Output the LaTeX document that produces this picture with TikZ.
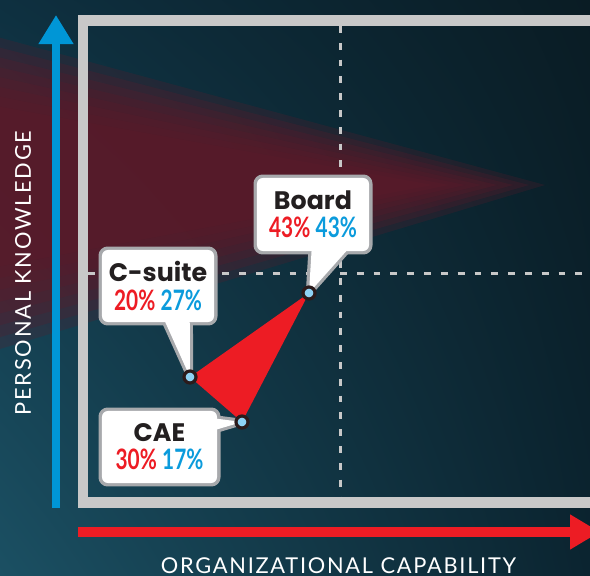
\documentclass[tikz,border=0pt]{standalone}
\usepackage{fontspec}
\setmainfont{Lato}
\newfontfamily\headfont{Poppins}
\newfontfamily\numfont[FakeStretch=0.74]{Lato}
\newfontfamily\axisfont[LetterSpace=8]{Lato}
\usetikzlibrary{arrows.meta,calc,positioning,shadings}
\pgfdeclarelayer{back}
\pgfsetlayers{back,main}

\definecolor{chartred}{HTML}{ED1C24}
\definecolor{chartblue}{HTML}{0B9BDC}
\definecolor{axisblue}{HTML}{0096D6}
\definecolor{framegray}{HTML}{C8C8C8}
\definecolor{boxgray}{HTML}{A7A9AC}
\definecolor{dotblue}{HTML}{8ED2F4}
\definecolor{dotrim}{HTML}{2B1B1B}
\definecolor{titleblack}{HTML}{231F20}
\definecolor{bgtl}{HTML}{0E3040}
\definecolor{bgtr}{HTML}{0A1C24}
\definecolor{bgbl}{HTML}{1B5063}
\definecolor{bgbr}{HTML}{0B2430}
\definecolor{bgmaroon}{HTML}{5E1A29}

\begin{document}
\begin{tikzpicture}[x=0.025cm, y=-0.025cm,
    callout/.style={fill=white, rounded corners=0.15cm, inner sep=0pt, align=center,
      text=titleblack, font=\headfont\bfseries\fontsize{18}{19}\selectfont},
    outline/.style={draw=boxgray, line width=0.16cm, line join=round},
    dot/.style={circle, fill=dotblue, draw=dotrim, line width=0.08cm, inner sep=0pt, minimum size=0.3cm},
    gridline/.style={framegray, line width=0.075cm, dash pattern=on 0.17cm off 0.25cm},
    axislabel/.style={white, inner sep=0pt, font=\axisfont\fontsize{15.5}{15.5}\selectfont}]
  \clip (0,0) rectangle (590,576);

  \begin{pgfonlayer}{back}
    % backdrop
    \shade[upper left=bgtl, upper right=bgtr, lower left=bgbl, lower right=bgbr] (0,0) rectangle (590,576);
    \foreach \s in {0,...,7}
      \fill[bgmaroon, opacity=0.25] (-10,35+\s*10) -- (545-\s*16,185) -- (-10,352-\s*12) -- cycle;

    % frame and quadrants
    \draw[framegray, line width=0.26cm] (83.2,20.5) rectangle (620,502.5);
    \draw[gridline] (340.6,26) -- (340.6,497);
    \draw[gridline] (88,274) -- (590,274);

    % axes
    \draw[axisblue, line width=0.215cm, -{Triangle[length=0.725cm,width=0.825cm]}] (56,508) -- (56,15);
    \draw[chartred, line width=0.25cm, -{Triangle[length=0.75cm,width=0.825cm]}] (78,532) -- (600,532);
  \end{pgfonlayer}

  \node[axislabel, rotate=90] (knowledge) at (23,273) {PERSONAL KNOWLEDGE};
  \node[axislabel] (capability) at (338.5,566) {ORGANIZATIONAL CAPABILITY};

  % points
  \node[dot] (board) at (309,293) {};
  \node[dot] (csuite) at (190,377) {};
  \node[dot] (cae) at (242,422) {};

  % callouts
  \node[callout, minimum width=2.8cm, minimum height=1.825cm] (boardbox) at (313,214.5)
    {Board\\[1pt]{\numfont\fontsize{20}{20}\selectfont\color{chartred}43\%} {\numfont\fontsize{20}{20}\selectfont\color{chartblue}43\%}};
  \node[callout, minimum width=2.8cm, minimum height=1.8cm] (csuitebox) at (158,286)
    {C-suite\\[1pt]{\numfont\fontsize{20}{20}\selectfont\color{chartred}20\%} {\numfont\fontsize{20}{20}\selectfont\color{chartblue}27\%}};
  \node[callout, minimum width=2.875cm, minimum height=1.8cm] (caebox) at (159.5,447)
    {CAE\\[1pt]{\numfont\fontsize{20}{20}\selectfont\color{chartred}30\%} {\numfont\fontsize{20}{20}\selectfont\color{chartblue}17\%}};

  \begin{pgfonlayer}{back}
    \draw[outline, rounded corners=0.15cm] (boardbox.south west) rectangle (boardbox.north east);
    \draw[outline, rounded corners=0.15cm] (csuitebox.south west) rectangle (csuitebox.north east);
    \draw[outline, rounded corners=0.15cm] (caebox.south west) rectangle (caebox.north east);
    \draw[outline] ($(boardbox.south)+(-1,-8)$) -- (board.center) -- ($(boardbox.south east)+(-16,-8)$);
    \draw[outline] ($(csuitebox.south west)+(60,-8)$) -- (csuite.center) -- ($(csuitebox.south west)+(88,-8)$);
    \draw[outline] ($(caebox.north east)+(-8,7)$) -- (cae.center) -- ($(caebox.north east)+(-8,21)$);
    \fill[white] ($(boardbox.south)+(-1,-8)$) -- (board.center) -- ($(boardbox.south east)+(-16,-8)$) -- cycle;
    \fill[white] ($(csuitebox.south west)+(60,-8)$) -- (csuite.center) -- ($(csuitebox.south west)+(88,-8)$) -- cycle;
    \fill[white] ($(caebox.north east)+(-8,7)$) -- (cae.center) -- ($(caebox.north east)+(-8,21)$) -- cycle;
    % spread of views
    \fill[chartred] (csuite.center) -- (board.center) -- (cae.center) -- cycle;
  \end{pgfonlayer}
\end{tikzpicture}
\end{document}
